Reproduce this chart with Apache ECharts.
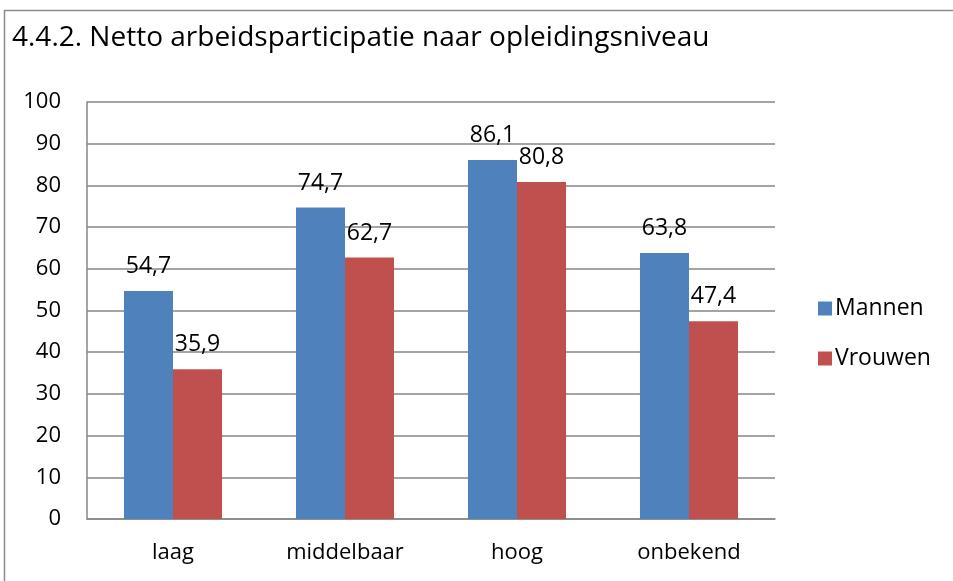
<!DOCTYPE html>
<html>
<head>
<meta charset="utf-8">
<script src="https://cdn.jsdelivr.net/npm/echarts@6/dist/echarts.min.js"></script>
<style>
  html, body { margin: 0; padding: 0; background: #fff; }
  #container { width: 953px; height: 581px; }
</style>
</head>
<body>
<div id="container"></div>
<script>
var categories = ['laag', 'middelbaar', 'hoog', 'onbekend'];
var mannen = [54.7, 74.7, 86.1, 63.8];
var vrouwen = [35.9, 62.7, 80.8, 47.4];
var seriesNames = ['Mannen', 'Vrouwen'];

var dom = document.getElementById('container');
var myChart = echarts.init(dom, null, { renderer: 'canvas' });
var font = '"Open Sans", "Liberation Sans", sans-serif';

function fmt(p) {
    return p.value.toFixed(1).replace('.', ',');
}

var option = {
    animation: false,
    backgroundColor: '#fff',
    title: {
        text: '4.4.2. Netto arbeidsparticipatie naar opleidingsniveau',
        left: 7,
        top: 19,
        textStyle: { fontFamily: font, fontSize: 28, fontWeight: 'normal', color: '#000' }
    },
    graphic: [
        { type: 'line', shape: { x1: 4, y1: 10.5, x2: 953, y2: 10.5 }, style: { stroke: '#8c8c8c', lineWidth: 1.5 } },
        { type: 'line', shape: { x1: 4.5, y1: 10, x2: 4.5, y2: 581 }, style: { stroke: '#8c8c8c', lineWidth: 1.5 } }
    ],
    legend: {
        orient: 'vertical',
        left: 813,
        top: 292,
        itemWidth: 14,
        itemHeight: 14,
        itemGap: 27,
        icon: 'rect',
        textStyle: { fontFamily: font, fontSize: 23, color: '#000', padding: [0, 0, 0, -2] },
        data: seriesNames
    },
    grid: { left: 87, right: 178, top: 102, bottom: 62 },
    xAxis: {
        type: 'category',
        data: categories,
        axisLine: { lineStyle: { color: '#868686', width: 1.5 } },
        axisTick: { show: false },
        axisLabel: { fontFamily: font, fontSize: 22, color: '#000', margin: 23 }
    },
    yAxis: {
        type: 'value',
        min: 0,
        max: 100,
        interval: 10,
        axisLine: { show: true, lineStyle: { color: '#868686', width: 1.5 } },
        axisTick: { show: false },
        splitLine: { lineStyle: { color: '#868686', width: 1.5 } },
        axisLabel: { fontFamily: font, fontSize: 22, color: '#000', margin: 26 }
    },
    series: [
        {
            name: seriesNames[0],
            type: 'bar',
            data: mannen,
            barGap: '0%',
            barCategoryGap: '43%',
            itemStyle: { color: '#4F81BD' },
            label: { show: true, position: 'top', distance: 13, formatter: fmt, fontFamily: font, fontSize: 23, color: '#000' }
        },
        {
            name: seriesNames[1],
            type: 'bar',
            data: vrouwen,
            barGap: '0%',
            barCategoryGap: '43%',
            itemStyle: { color: '#C0504D' },
            label: { show: true, position: 'top', distance: 13, formatter: fmt, fontFamily: font, fontSize: 23, color: '#000' }
        }
    ]
};

myChart.setOption(option);
window.addEventListener('resize', myChart.resize);
</script>
</body>
</html>
